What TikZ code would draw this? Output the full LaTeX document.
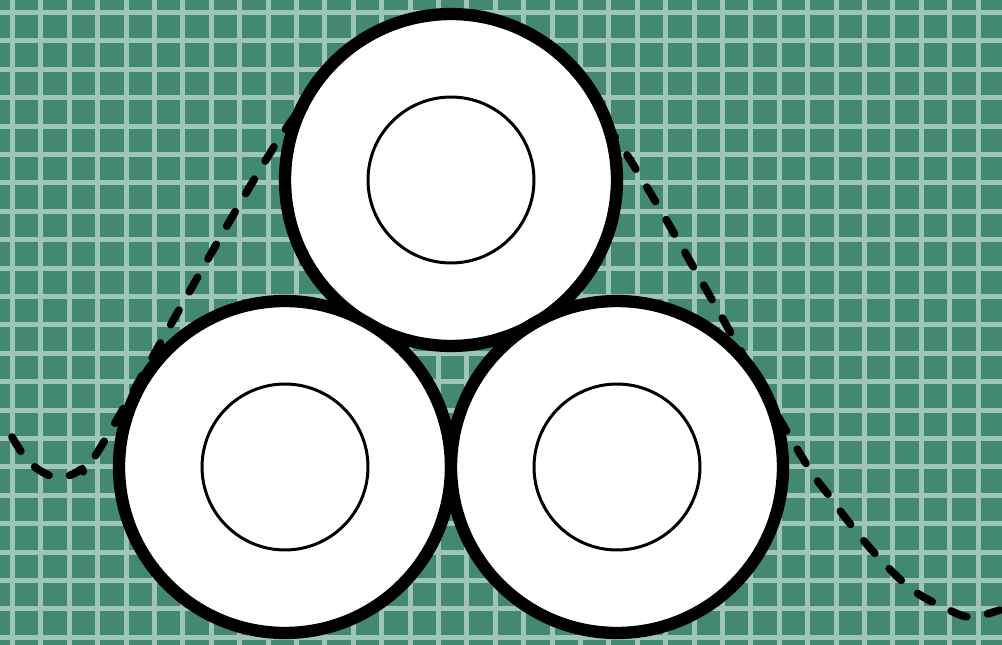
\documentclass[tikz,border=0pt]{standalone}
\usepackage{tikz}
\usepackage{xcolor}
\definecolor{board}{RGB}{67,136,114}
\definecolor{boardline}{RGB}{157,197,185}

\begin{document}
\begin{tikzpicture}[x=0.02cm,y=-0.02cm,
  gridline/.style={boardline,line width=2.8pt},
  ring/.style={fill=white,draw=black,line width=7pt},
  hole/.style={draw=black,line width=1.7pt},
  trace/.style={black,line width=4.4pt,line cap=round,dash pattern=on 9.5pt off 12pt}]
\fill[board](0,0)rectangle(1002,645);
\useasboundingbox(0,0)rectangle(1002,645);
\foreach \i in {0,...,35}
  \draw[gridline](12.5+28.4*\i,0)--(12.5+28.4*\i,645);
\foreach \j in {0,...,22}
  \draw[gridline](0,12.5+28.4*\j)--(1002,12.5+28.4*\j);
\draw[trace]plot[smooth,tension=0.55]coordinates{(12,437)(30,463)(55,477)(80,470)(105,440)(283,133)(360,62)(451,42)(545,68)(625,152)(790,437)(830,497)(870,548)(910,588)(945,608)(970,617)(1000,610)};
\coordinate(top)at(451,180);
\coordinate(left)at(285,467);
\coordinate(right)at(617,467);
\foreach \c in {top,left,right}{
  \draw[ring](\c)circle[radius=3.32cm];
  \draw[hole](\c)circle[radius=1.66cm];
}
\end{tikzpicture}
\end{document}
